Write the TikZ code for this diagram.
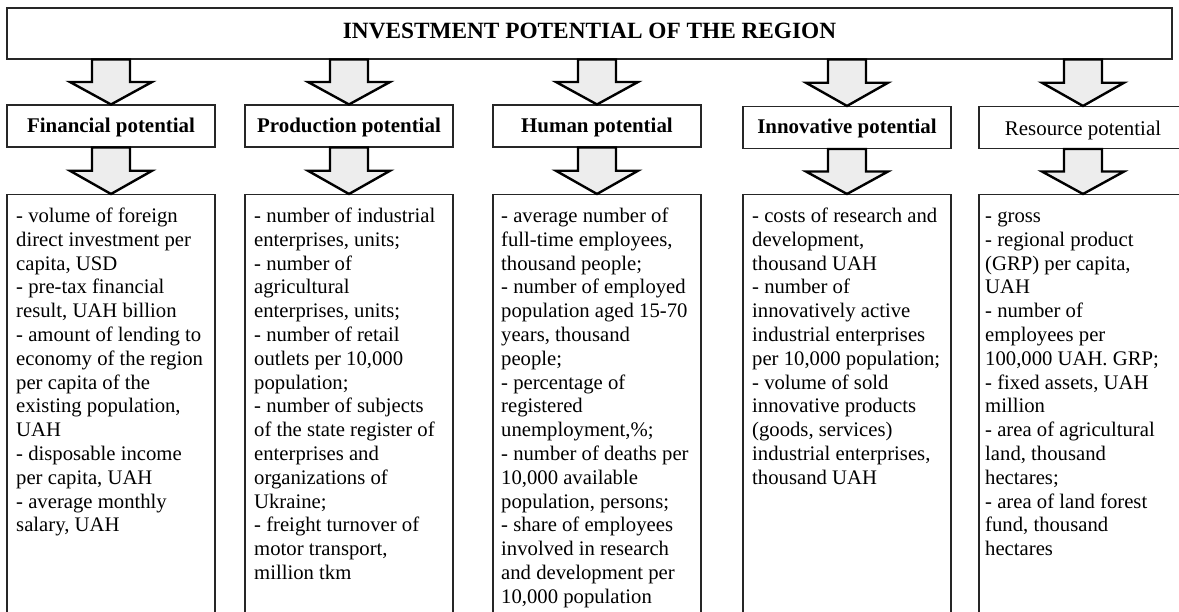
\documentclass[tikz,border=0pt]{standalone}
\usepackage{fontspec}
\setmainfont{Liberation Serif}
\usetikzlibrary{calc}
\newcommand\blockarrow[2]{%
  \draw[barrow] let \p1=(#2.north), \p2=(#1.south) in
    (\x1-19pt,\y2) -- (\x1+19pt,\y2) -- (\x1+19pt,{(\y1+\y2)/2}) -- (\x1+41pt,{(\y1+\y2)/2})
    -- (\x1,\y1) -- (\x1-41pt,{(\y1+\y2)/2}) -- (\x1-19pt,{(\y1+\y2)/2}) -- cycle;}
\newcommand\itemtext[1]{\parbox[t]{230pt}{\raggedright\fontsize{20.7}{23.8}\selectfont #1}}
\begin{document}
\begin{tikzpicture}[x=1pt,y=-1pt,
  box/.style={draw=black!85, line width=1.1pt, rectangle, inner sep=0pt},
  cat/.style={box, minimum width=208pt, minimum height=42pt, text height=17pt, text depth=3pt, font=\fontsize{20.9}{24}\selectfont\bfseries},
  lst/.style={box, minimum width=208pt, minimum height=440pt, anchor=north},
  txt/.style={anchor=base west, inner sep=0pt},
  barrow/.style={draw=black, line width=2.4pt, fill=black!7, line join=miter}]
\useasboundingbox (0,0) rectangle (1179,612);
\clip (0,0) rectangle (1179,612);
\fill[white] (0,0) rectangle (1179,612);

\node[box, minimum width=1165pt, minimum height=51pt, text height=15pt, text depth=4pt, font=\fontsize{23.3}{26}\selectfont\bfseries] (top) at (589.5,33.5) {INVESTMENT POTENTIAL OF THE REGION};

\node[cat] (c1) at (111,126) {Financial potential};
\node[cat] (c2) at (349,126) {Production potential};
\node[cat] (c3) at (597,126) {Human potential};
\node[cat, text height=15pt] (c4) at (847,127.5) {Innovative potential};
\node[cat, text height=19pt, text depth=2pt, font=\fontsize{20.9}{24}\selectfont] (c5) at (1083,127.5) {Resource potential};

\node[lst] (l1) at (111,194) {};
\node[lst] (l2) at (349,194) {};
\node[lst] (l3) at (597,194) {};
\node[lst] (l4) at (847,194) {};
\node[lst] (l5) at (1083,194) {};

\foreach \c in {1,...,5}{\blockarrow{top}{c\c}}
\foreach \c in {1,...,5}{\blockarrow{c\c}{l\c}}

\node[txt] (t1) at (16,222.5) {\itemtext{- volume of foreign\\
direct investment per\\
capita, USD\\
- pre-tax financial\\
result, UAH billion\\
- amount of lending to\\
economy of the region\\
per capita of the\\
existing population,\\
UAH\\
- disposable income\\
per capita, UAH\\
- average monthly\\
salary, UAH}};

\node[txt] (t2) at (254,222.5) {\itemtext{- number of industrial\\
enterprises, units;\\
- number of\\
agricultural\\
enterprises, units;\\
- number of retail\\
outlets per 10,000\\
population;\\
- number of subjects\\
of the state register of\\
enterprises and\\
organizations of\\
Ukraine;\\
- freight turnover of\\
motor transport,\\
million tkm}};

\node[txt] (t3) at (501,222.5) {\itemtext{- average number of\\
full-time employees,\\
thousand people;\\
- number of employed\\
population aged 15-70\\
years, thousand\\
people;\\
- percentage of\\
registered\\
unemployment,\%;\\
- number of deaths per\\
10,000 available\\
population, persons;\\
- share of employees\\
involved in research\\
and development per\\
10,000 population}};

\node[txt] (t4) at (752,222.5) {\itemtext{- costs of research and\\
development,\\
thousand UAH\\
- number of\\
innovatively active\\
industrial enterprises\\
per 10,000 population;\\
- volume of sold\\
innovative products\\
(goods, services)\\
industrial enterprises,\\
thousand UAH}};

\node[txt] (t5) at (985,222.5) {\itemtext{- gross\\
- regional product\\
(GRP) per capita,\\
UAH\\
- number of\\
employees per\\
100,000 UAH. GRP;\\
- fixed assets, UAH\\
million\\
- area of agricultural\\
land, thousand\\
hectares;\\
- area of land forest\\
fund, thousand\\
hectares}};
\end{tikzpicture}
\end{document}
